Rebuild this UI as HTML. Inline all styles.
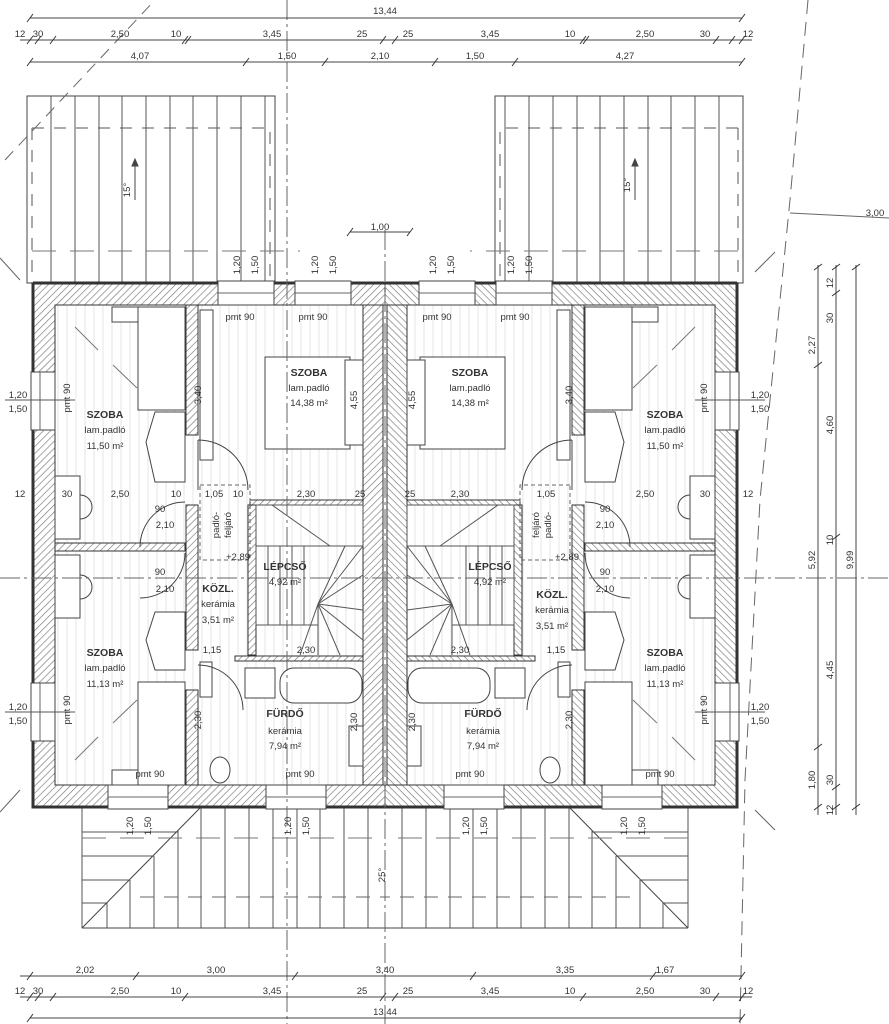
<!DOCTYPE html>
<html><head><meta charset="utf-8"><style>
html,body{margin:0;padding:0;background:#fff}
svg{display:block}
text{font-family:"Liberation Sans",sans-serif;fill:#333}
.d{font-size:9.5px;text-anchor:middle}
.b{font-size:10.5px;font-weight:bold;text-anchor:middle;fill:#222}
.n{font-size:9.5px;text-anchor:middle;fill:#444}
</style></head><body>
<svg width="889" height="1024" viewBox="0 0 889 1024" xmlns="http://www.w3.org/2000/svg">
<defs>
<pattern id="h" width="5" height="5" patternUnits="userSpaceOnUse" patternTransform="rotate(45)">
<rect width="5" height="5" fill="#fff"/><line x1="0" y1="0" x2="0" y2="5" stroke="#777" stroke-width="1.3"/></pattern>
<pattern id="fl" width="9" height="9" patternUnits="userSpaceOnUse"><line x1="4" y1="0" x2="4" y2="9" stroke="#e6e6e6" stroke-width="1"/></pattern>
<g id="half" stroke="#444" fill="none" stroke-width="1">
 <!-- top roof -->
 <rect x="27" y="96" width="248" height="187" fill="#fff"/>
 <g stroke="#555">
 <line x1="51" y1="96" x2="51" y2="283"/><line x1="75" y1="96" x2="75" y2="283"/><line x1="99" y1="96" x2="99" y2="283"/><line x1="122" y1="96" x2="122" y2="283"/><line x1="146" y1="96" x2="146" y2="283"/><line x1="170" y1="96" x2="170" y2="283"/><line x1="193" y1="96" x2="193" y2="283"/><line x1="217" y1="96" x2="217" y2="283"/><line x1="241" y1="96" x2="241" y2="283"/><line x1="265" y1="96" x2="265" y2="283"/>
 </g>
 <path d="M32 128 H270 V283 M32 128 V283" stroke-dasharray="12 10" stroke="#555"/>
 <line x1="32" y1="251" x2="300" y2="251" stroke-dasharray="24 14" stroke="#777"/>
 <line x1="135" y1="200" x2="135" y2="160"/><path d="M132 166 L135 159 L138 166Z" fill="#444"/>
 <!-- bottom roof -->
 <path d="M82 928 L200 808 M82 928 H385" stroke="#444"/>
 <g stroke="#555">
 <line x1="82" y1="808" x2="82" y2="928"/><line x1="107" y1="903" x2="107" y2="928"/><line x1="130" y1="880" x2="130" y2="928"/><line x1="154" y1="856" x2="154" y2="928"/><line x1="178" y1="830" x2="178" y2="928"/>
 <line x1="201" y1="808" x2="201" y2="928"/><line x1="225" y1="808" x2="225" y2="928"/><line x1="249" y1="808" x2="249" y2="928"/><line x1="273" y1="808" x2="273" y2="928"/><line x1="297" y1="808" x2="297" y2="928"/><line x1="320" y1="808" x2="320" y2="928"/><line x1="344" y1="808" x2="344" y2="928"/><line x1="368" y1="808" x2="368" y2="928"/>
 <line x1="82" y1="832" x2="178" y2="832"/><line x1="82" y1="856" x2="154" y2="856"/><line x1="82" y1="880" x2="130" y2="880"/><line x1="82" y1="903" x2="107" y2="903"/>
 </g>
 <line x1="140" y1="897" x2="385" y2="897" stroke-dasharray="14 10" stroke="#666"/>
 <line x1="82" y1="838" x2="385" y2="838" stroke-dasharray="24 14" stroke="#777"/>
 <!-- floor fill -->
 <rect x="55" y="305" width="330" height="480" fill="url(#fl)" stroke="none"/>
 <!-- outer walls -->
 <path d="M33 283 H385 V305 H55 V785 H385 V807 H33Z" fill="url(#h)" stroke="#333"/>
 <path d="M33 283 H385 M33 283 V807 H385" stroke="#333" stroke-width="3"/>
 <!-- center wall leaf -->
 <rect x="363" y="305" width="20" height="480" fill="url(#h)" stroke="#333"/>
 <!-- windows -->
 <g fill="#fff" stroke="#444">
 <rect x="31" y="372" width="24" height="58"/><rect x="31" y="683" width="24" height="58"/>
 <rect x="218" y="281" width="56" height="24"/><rect x="295" y="281" width="56" height="24"/>
 <rect x="108" y="785" width="60" height="24"/><rect x="266" y="785" width="60" height="24"/>
 </g>
 <g stroke="#666"><line x1="40" y1="372" x2="40" y2="430"/><line x1="40" y1="683" x2="40" y2="741"/><line x1="218" y1="293" x2="274" y2="293"/><line x1="295" y1="293" x2="351" y2="293"/><line x1="108" y1="797" x2="168" y2="797"/><line x1="266" y1="797" x2="326" y2="797"/></g>
 <!-- interior walls -->
 <g fill="url(#h)" stroke="#333">
 <rect x="186" y="305" width="12" height="130"/>
 <rect x="186" y="505" width="12" height="145"/>
 <rect x="186" y="690" width="12" height="95"/>
 <rect x="55" y="543" width="130" height="8"/>
 <rect x="248" y="505" width="8" height="150"/>
 <rect x="250" y="500" width="113" height="5"/>
 <rect x="235" y="656" width="128" height="5"/>
 </g>
 <!-- furniture -->
 <g fill="#fff" stroke="#444">
 <rect x="112" y="307" width="26" height="15"/>
 <rect x="138" y="307" width="47" height="103"/>
 <path d="M155 412 L146 442 L155 482 H185 V412Z"/>
 <rect x="55" y="476" width="25" height="63"/>
 <rect x="55" y="555" width="25" height="63"/>
 <path d="M155 612 L146 640 L155 670 H185 V612Z"/>
 <rect x="138" y="682" width="47" height="103"/>
 <rect x="112" y="770" width="26" height="15"/>
 <rect x="265" y="357" width="85" height="92"/>
 <rect x="345" y="360" width="18" height="85"/>
 <rect x="200" y="310" width="13" height="150"/>
 <rect x="245" y="668" width="30" height="30"/>
 <rect x="280" y="668" width="82" height="35" rx="14"/>
 <rect x="349" y="726" width="14" height="40"/>
 <ellipse cx="220" cy="770" rx="10" ry="13"/>
 <rect x="200" y="662" width="12" height="35"/>
 </g>
 <path d="M80 495 A12 12 0 0 1 80 519" fill="none"/>
 <path d="M80 575 A12 12 0 0 1 80 599"/>
 <path d="M198 440 A50 50 0 0 1 248 490 M198 440 V490"/>
 <path d="M185 502 A45 45 0 0 0 140 547"/>
 <path d="M185 553 A45 45 0 0 1 140 598"/>
 <path d="M198 665 A45 45 0 0 1 243 710"/>
 <!-- stairs -->
 <g stroke="#555">
 <rect x="256" y="505" width="107" height="41"/>
 <line x1="256" y1="546" x2="256" y2="625"/>
 <line x1="256" y1="625" x2="318" y2="625"/>
 <line x1="268" y1="546" x2="268" y2="625"/><line x1="280" y1="546" x2="280" y2="625"/><line x1="292" y1="546" x2="292" y2="625"/><line x1="304" y1="546" x2="304" y2="625"/>
 <line x1="318" y1="604" x2="363" y2="546"/><line x1="318" y1="604" x2="345" y2="546"/><line x1="318" y1="604" x2="363" y2="575"/><line x1="318" y1="604" x2="363" y2="610"/><line x1="318" y1="604" x2="363" y2="640"/><line x1="318" y1="604" x2="340" y2="655"/><line x1="318" y1="604" x2="318" y2="655"/><line x1="318" y1="604" x2="300" y2="655"/>
 <line x1="272" y1="505" x2="330" y2="546"/>
 </g>
 <!-- dashed corridor -->
 <rect x="200" y="485" width="50" height="75" stroke-dasharray="4 3" stroke="#666"/>
 <!-- diagonal marks in rooms -->
 <g stroke="#777"><line x1="75" y1="327" x2="98" y2="350"/><line x1="113" y1="365" x2="137" y2="388"/><line x1="75" y1="760" x2="98" y2="737"/><line x1="113" y1="723" x2="137" y2="700"/></g>
 <line x1="5" y1="400" x2="75" y2="400" stroke="#555"/><line x1="5" y1="712" x2="75" y2="712" stroke="#555"/>
</g>
</defs>
<use href="#half"/>
<use href="#half" transform="translate(770,0) scale(-1,1)"/>
<!-- axes -->
<g stroke="#666" fill="none">
<line x1="287" y1="0" x2="287" y2="1024" stroke-dasharray="20 4 3 4"/>
<line x1="385" y1="230" x2="385" y2="1024" stroke-dasharray="20 4 3 4"/>
<line x1="0" y1="578" x2="889" y2="578" stroke-dasharray="20 4 3 4"/>
<line x1="5" y1="160" x2="155" y2="0" stroke-dasharray="12 8"/>
<path d="M808 0 L790 200 L760 500 L745 780 L740 1024" stroke-dasharray="14 8"/>
<line x1="790" y1="213" x2="889" y2="218"/>
<path d="M0 258 L20 280 M0 812 L20 790 M775 252 L755 272 M775 830 L755 810"/>
</g>
<!-- dimension lines -->
<g stroke="#444">
<line x1="30" y1="18" x2="742" y2="18"/><line x1="20" y1="40" x2="752" y2="40"/><line x1="30" y1="62" x2="742" y2="62"/>
<line x1="20" y1="976" x2="742" y2="976"/><line x1="20" y1="997" x2="752" y2="997"/><line x1="30" y1="1018" x2="742" y2="1018"/>
<line x1="818" y1="265" x2="818" y2="815"/><line x1="836" y1="265" x2="836" y2="815"/><line x1="856" y1="265" x2="856" y2="815"/>
<line x1="350" y1="232" x2="410" y2="232"/>
</g>
<g stroke="#333" stroke-width="1">
<path d="M27 22 l6 -8 M27 44 l6 -8 M35 44 l6 -8 M50 44 l6 -8 M182 44 l6 -8 M185 44 l6 -8 M380 44 l6 -8 M392 44 l6 -8 M580 44 l6 -8 M583 44 l6 -8 M713 44 l6 -8 M729 44 l6 -8 M739 22 l6 -8 M739 44 l6 -8
M27 66 l6 -8 M243 66 l6 -8 M322 66 l6 -8 M432 66 l6 -8 M512 66 l6 -8 M739 66 l6 -8
M27 980 l6 -8 M133 980 l6 -8 M292 980 l6 -8 M470 980 l6 -8 M650 980 l6 -8 M739 980 l6 -8
M27 1001 l6 -8 M35 1001 l6 -8 M50 1001 l6 -8 M182 1001 l6 -8 M380 1001 l6 -8 M392 1001 l6 -8 M580 1001 l6 -8 M713 1001 l6 -8 M739 1001 l6 -8 M27 1022 l6 -8 M739 1022 l6 -8
M814 270 l8 -6 M814 368 l8 -6 M814 750 l8 -6 M814 810 l8 -6 M832 270 l8 -6 M832 296 l8 -6 M832 540 l8 -6 M832 790 l8 -6 M832 810 l8 -6 M852 270 l8 -6 M852 810 l8 -6
M347 236 l6 -8 M407 236 l6 -8"/>
</g>
<!-- dimension texts -->
<g class="d">
<text x="385" y="14">13,44</text>
<text x="20" y="37">12</text><text x="38" y="37">30</text><text x="120" y="37">2,50</text><text x="176" y="37">10</text><text x="272" y="37">3,45</text><text x="362" y="37">25</text><text x="408" y="37">25</text><text x="490" y="37">3,45</text><text x="570" y="37">10</text><text x="645" y="37">2,50</text><text x="705" y="37">30</text><text x="748" y="37">12</text>
<text x="140" y="59">4,07</text><text x="287" y="59">1,50</text><text x="380" y="59">2,10</text><text x="475" y="59">1,50</text><text x="625" y="59">4,27</text>
<text x="380" y="230">1,00</text><text x="875" y="216">3,00</text>
<text x="85" y="973">2,02</text><text x="216" y="973">3,00</text><text x="385" y="973">3,40</text><text x="565" y="973">3,35</text><text x="665" y="973">1,67</text>
<text x="20" y="994">12</text><text x="38" y="994">30</text><text x="120" y="994">2,50</text><text x="176" y="994">10</text><text x="272" y="994">3,45</text><text x="362" y="994">25</text><text x="408" y="994">25</text><text x="490" y="994">3,45</text><text x="570" y="994">10</text><text x="645" y="994">2,50</text><text x="705" y="994">30</text><text x="748" y="994">12</text>
<text x="385" y="1015">13,44</text>
<text x="20" y="497">12</text><text x="67" y="497">30</text><text x="120" y="497">2,50</text><text x="176" y="497">10</text><text x="214" y="497">1,05</text><text x="238" y="497">10</text><text x="306" y="497">2,30</text><text x="360" y="497">25</text><text x="410" y="497">25</text><text x="460" y="497">2,30</text><text x="546" y="497">1,05</text><text x="645" y="497">2,50</text><text x="705" y="497">30</text><text x="748" y="497">12</text>
<text x="212" y="653">1,15</text><text x="306" y="653">2,30</text><text x="460" y="653">2,30</text><text x="556" y="653">1,15</text>
<text x="160" y="512">90</text><text x="165" y="528">2,10</text><text x="160" y="575">90</text><text x="165" y="592">2,10</text>
<text x="605" y="512">90</text><text x="605" y="528">2,10</text><text x="605" y="575">90</text><text x="605" y="592">2,10</text>
<text x="238" y="560">+2,89</text><text x="567" y="560">+2,89</text>
<text x="18" y="398">1,20</text><text x="18" y="412">1,50</text><text x="18" y="710">1,20</text><text x="18" y="724">1,50</text>
<text x="760" y="398">1,20</text><text x="760" y="412">1,50</text><text x="760" y="710">1,20</text><text x="760" y="724">1,50</text>
</g>
<g class="d">
<text transform="translate(240,265) rotate(-90)">1,20</text><text transform="translate(258,265) rotate(-90)">1,50</text>
<text transform="translate(318,265) rotate(-90)">1,20</text><text transform="translate(336,265) rotate(-90)">1,50</text>
<text transform="translate(436,265) rotate(-90)">1,20</text><text transform="translate(454,265) rotate(-90)">1,50</text>
<text transform="translate(514,265) rotate(-90)">1,20</text><text transform="translate(532,265) rotate(-90)">1,50</text>
<text transform="translate(133,826) rotate(-90)">1,20</text><text transform="translate(151,826) rotate(-90)">1,50</text>
<text transform="translate(291,826) rotate(-90)">1,20</text><text transform="translate(309,826) rotate(-90)">1,50</text>
<text transform="translate(469,826) rotate(-90)">1,20</text><text transform="translate(487,826) rotate(-90)">1,50</text>
<text transform="translate(627,826) rotate(-90)">1,20</text><text transform="translate(645,826) rotate(-90)">1,50</text>
<text transform="translate(201,395) rotate(-90)">3,40</text><text transform="translate(572,395) rotate(-90)">3,40</text>
<text transform="translate(357,400) rotate(-90)">4,55</text><text transform="translate(415,400) rotate(-90)">4,55</text>
<text transform="translate(201,720) rotate(-90)">2,30</text><text transform="translate(572,720) rotate(-90)">2,30</text>
<text transform="translate(357,722) rotate(-90)">2,30</text><text transform="translate(415,722) rotate(-90)">2,30</text>
<text transform="translate(130,190) rotate(-90)">15°</text><text transform="translate(630,185) rotate(-90)">15°</text>
<text transform="translate(385,875) rotate(-90)">25°</text>
<text transform="translate(815,345) rotate(-90)">2,27</text><text transform="translate(833,425) rotate(-90)">4,60</text><text transform="translate(815,560) rotate(-90)">5,92</text><text transform="translate(833,670) rotate(-90)">4,45</text><text transform="translate(815,780) rotate(-90)">1,80</text><text transform="translate(853,560) rotate(-90)">9,99</text><text transform="translate(833,540) rotate(-90)">10</text><text transform="translate(833,318) rotate(-90)">30</text><text transform="translate(833,283) rotate(-90)">12</text><text transform="translate(833,780) rotate(-90)">30</text><text transform="translate(833,810) rotate(-90)">12</text>
<text transform="translate(70,398) rotate(-90)">pmt 90</text><text transform="translate(70,710) rotate(-90)">pmt 90</text><text transform="translate(707,398) rotate(-90)">pmt 90</text><text transform="translate(707,710) rotate(-90)">pmt 90</text>
<text transform="translate(219,525) rotate(-90)">padló-</text><text transform="translate(231,525) rotate(-90)">feljáró</text><text transform="translate(551,525) rotate(-90)">padló-</text><text transform="translate(539,525) rotate(-90)">feljáró</text>
</g>
<g class="n">
<text x="240" y="320">pmt 90</text><text x="313" y="320">pmt 90</text><text x="437" y="320">pmt 90</text><text x="515" y="320">pmt 90</text>
<text x="150" y="777">pmt 90</text><text x="300" y="777">pmt 90</text><text x="470" y="777">pmt 90</text><text x="660" y="777">pmt 90</text>
<text x="105" y="433">lam.padló</text><text x="105" y="449">11,50 m²</text>
<text x="665" y="433">lam.padló</text><text x="665" y="449">11,50 m²</text>
<text x="309" y="391">lam.padló</text><text x="309" y="406">14,38 m²</text>
<text x="470" y="391">lam.padló</text><text x="470" y="406">14,38 m²</text>
<text x="105" y="671">lam.padló</text><text x="105" y="687">11,13 m²</text>
<text x="665" y="671">lam.padló</text><text x="665" y="687">11,13 m²</text>
<text x="285" y="585">4,92 m²</text><text x="490" y="585">4,92 m²</text>
<text x="218" y="607">kerámia</text><text x="218" y="623">3,51 m²</text>
<text x="552" y="613">kerámia</text><text x="552" y="629">3,51 m²</text>
<text x="285" y="734">kerámia</text><text x="285" y="749">7,94 m²</text>
<text x="483" y="734">kerámia</text><text x="483" y="749">7,94 m²</text>
</g>
<g class="b">
<text x="105" y="418">SZOBA</text><text x="665" y="418">SZOBA</text>
<text x="309" y="376">SZOBA</text><text x="470" y="376">SZOBA</text>
<text x="105" y="656">SZOBA</text><text x="665" y="656">SZOBA</text>
<text x="285" y="570">LÉPCSŐ</text><text x="490" y="570">LÉPCSŐ</text>
<text x="218" y="592">KÖZL.</text><text x="552" y="598">KÖZL.</text>
<text x="285" y="717">FÜRDŐ</text><text x="483" y="717">FÜRDŐ</text>
</g>
</svg>
</body></html>
